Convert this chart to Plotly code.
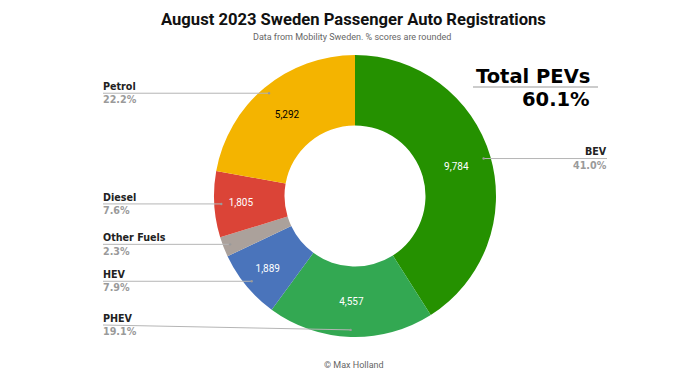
import math
import plotly.graph_objects as go

# ---- data ----
categories = ["BEV", "PHEV", "HEV", "Other Fuels", "Diesel", "Petrol"]
registrations = [9784, 4557, 1889, 550, 1805, 5292]
pev_categories = ["BEV", "PHEV"]

# ---- style ----
colors = ["#259100", "#33a852", "#4a74bb", "#aba19b", "#db4437", "#f4b400"]
text_colors = ["white", "white", "white", "white", "white", "black"]

W, H = 689, 388
dom_x = [214 / W, 496 / W]
dom_y = [(H - 337) / H, (H - 55) / H]

total = sum(registrations)
pcts = [v / total * 100 for v in registrations]
pev_pct = sum(p for c, p in zip(categories, pcts) if c in pev_categories)
slice_text = [f"{v:,}" if p >= 5 else "" for v, p in zip(registrations, pcts)]

fig = go.Figure(go.Pie(
    labels=categories,
    values=registrations,
    hole=0.5,
    sort=False,
    direction="clockwise",
    rotation=0,
    marker=dict(colors=colors, line=dict(width=0)),
    text=slice_text,
    textinfo="text",
    textposition="inside",
    insidetextorientation="horizontal",
    textfont=dict(family="Roboto", size=10, color=text_colors),
    domain=dict(x=dom_x, y=dom_y),
    showlegend=False,
    hoverinfo="label+value+percent",
))

# pie geometry in pixels
cx = (dom_x[0] + dom_x[1]) / 2 * W
cy = (1 - (dom_y[0] + dom_y[1]) / 2) * H
R = (dom_x[1] - dom_x[0]) * W / 2
r_dot = R * 0.95

# label anchor positions (layout)
label_side = {"BEV": "right", "PHEV": "left", "HEV": "left",
              "Other Fuels": "left", "Diesel": "left", "Petrol": "left"}
label_line_y_override = {"PHEV": 325}
left_x = 103
right_x = 607
label_font = "DejaVu Sans"

shapes = []
annotations = []
cum = 0.0
for cat, v, p in zip(categories, registrations, pcts):
    mid = (cum + v / 2) / total
    cum += v
    th = 2 * math.pi * mid
    px = cx + r_dot * math.sin(th)
    py = cy - r_dot * math.cos(th)
    ly = label_line_y_override.get(cat, py)
    side = label_side[cat]
    lx = left_x if side == "left" else right_x
    shapes.append(dict(type="line", xref="paper", yref="paper",
                       x0=lx / W, y0=1 - ly / H, x1=px / W, y1=1 - py / H,
                       line=dict(color="#b5b5b5", width=1)))
    shapes.append(dict(type="circle", xref="paper", yref="paper",
                       x0=(px - 1.2) / W, x1=(px + 1.2) / W,
                       y0=1 - (py + 1.2) / H, y1=1 - (py - 1.2) / H,
                       line=dict(width=0), fillcolor="#9a9a9a"))
    xanchor = "left" if side == "left" else "right"
    annotations.append(dict(xref="paper", yref="paper", x=lx / W, y=1 - (ly + 0.8) / H,
                            text=f"<b>{cat}</b>", showarrow=False,
                            xanchor=xanchor, yanchor="bottom",
                            font=dict(family=label_font, size=9.6, color="#222222"),
                            xshift=-2 if side == "left" else 2))
    annotations.append(dict(xref="paper", yref="paper", x=lx / W, y=1 - (ly - 0.8) / H,
                            text=f"<b>{p:.1f}%</b>", showarrow=False,
                            xanchor=xanchor, yanchor="top",
                            font=dict(family=label_font, size=9.6, color="#9a9a9a"),
                            xshift=-2 if side == "left" else 2))

# title, subtitle, credit
annotations.append(dict(xref="paper", yref="paper", x=353 / W, y=1 - 19 / H,
                        text="<b>August 2023 Sweden Passenger Auto Registrations</b>",
                        showarrow=False, xanchor="center", yanchor="middle",
                        font=dict(family="Roboto", size=16.6, color="#111111")))
annotations.append(dict(xref="paper", yref="paper", x=352 / W, y=1 - 37 / H,
                        text="Data from Mobility Sweden. % scores are rounded",
                        showarrow=False, xanchor="center", yanchor="middle",
                        font=dict(family="Roboto", size=9, color="#666666")))
annotations.append(dict(xref="paper", yref="paper", x=354 / W, y=1 - 365 / H,
                        text="© Max Holland",
                        showarrow=False, xanchor="center", yanchor="middle",
                        font=dict(family="Roboto", size=9, color="#666666")))

# Total PEVs box
annotations.append(dict(xref="paper", yref="paper", x=592 / W, y=1 - 77 / H,
                        text="<b>Total PEVs</b>", showarrow=False,
                        xanchor="right", yanchor="middle",
                        font=dict(family=label_font, size=19.5, color="black")))
annotations.append(dict(xref="paper", yref="paper", x=592 / W, y=1 - 99 / H,
                        text=f"<b>{pev_pct:.1f}%</b>", showarrow=False,
                        xanchor="right", yanchor="middle",
                        font=dict(family=label_font, size=19.5, color="black")))
shapes.append(dict(type="line", xref="paper", yref="paper",
                   x0=473 / W, x1=598 / W, y0=1 - 87 / H, y1=1 - 87 / H,
                   line=dict(color="#999999", width=1)))

fig.update_layout(
    width=W, height=H,
    margin=dict(l=0, r=0, t=0, b=0),
    paper_bgcolor="white",
    plot_bgcolor="white",
    shapes=shapes,
    annotations=annotations,
)

fig.write_html("out.html", config={"displayModeBar": False},
               post_script="document.body.style.margin='0';document.body.style.padding='0';")
